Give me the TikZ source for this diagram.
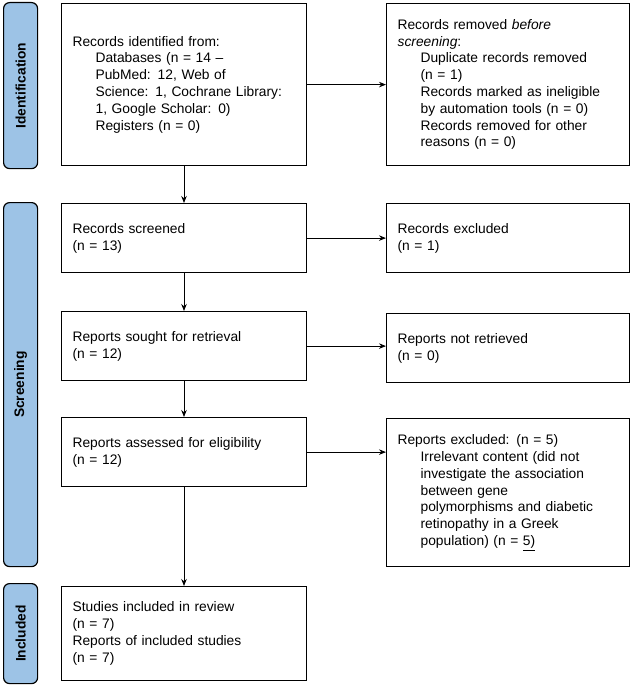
\documentclass[tikz,border=0pt]{standalone}
\usepackage{fontspec}
\setmainfont{Liberation Sans}
\usetikzlibrary{arrows.meta}
\definecolor{phase}{HTML}{9DC3E6}
\begin{document}
\begin{tikzpicture}[x=1pt,y=-1pt,
  box/.style={draw,line width=1.2pt,rectangle,anchor=north west,inner xsep=11pt,align=left,
    font=\fontsize{13.8}{16.8}\selectfont},
  lbox/.style={box,text width=222.8pt},
  rbox/.style={box,text width=220.8pt},
  phasebox/.style={draw,line width=1.2pt,fill=phase,rounded corners=6pt,anchor=north west,
    minimum width=34pt},
  phasetext/.style={rotate=90,font=\bfseries\fontsize{13.8}{16}\selectfont},
  arr/.style={-{Stealth[length=7pt,width=5.5pt]},line width=0.8pt}]
\useasboundingbox (0,0) rectangle (634,685);
\newcommand{\ind}{\hspace*{23pt}}
\node[phasebox,minimum height=166pt] (p1) at (3,2) {};
\node[phasetext] at (p1.center) {Identification};
\node[phasebox,minimum height=364pt] (p2) at (3,202) {};
\node[phasetext] at (p2.center) {Screening};
\node[phasebox,minimum height=100pt] (p3) at (3,583) {};
\node[phasetext] at (p3.center) {Included};

\node[lbox,minimum height=162pt] (a) at (61,3) {Records identified from:\\
\ind Databases (n = 14 --\\ \ind PubMed: 12, Web of\\ \ind Science: 1, Cochrane Library:\\ \ind 1, Google Scholar: 0)\\ \ind Registers (n = 0)};
\node[rbox,minimum height=162pt] (b) at (386,3) {Records removed \textit{before}\\ \textit{screening}:\\
\ind Duplicate records removed\\ \ind (n = 1)\\ \ind Records marked as ineligible\\ \ind by automation tools (n = 0)\\ \ind Records removed for other\\ \ind reasons (n = 0)};
\node[lbox,minimum height=69pt] (c) at (61,203) {Records screened\\(n = 13)};
\node[rbox,minimum height=69pt] (d) at (386,203) {Records excluded\\(n = 1)};
\node[lbox,minimum height=69pt] (e) at (61,311) {Reports sought for retrieval\\(n = 12)};
\node[rbox,minimum height=69pt] (f) at (386,313) {Reports not retrieved\\(n = 0)};
\node[lbox,minimum height=69pt] (g) at (61,417) {Reports assessed for eligibility\\(n = 12)};
\node[rbox,minimum height=148pt] (h) at (386,418) {Reports excluded: (n = 5)\\
\ind Irrelevant content (did not\\ \ind investigate the association\\ \ind between gene\\ \ind polymorphisms and diabetic\\ \ind retinopathy in a Greek\\ \ind population) (n = \underline{5)}};
\node[lbox,minimum height=94pt] (i) at (61,586) {Studies included in review\\(n = 7)\\Reports of included studies\\(n = 7)};

\draw[arr] (a.south) -- (c.north);
\draw[arr] (c.south) -- (e.north);
\draw[arr] (e.south) -- (g.north);
\draw[arr] (g.south) -- (i.north);
\draw[arr] (a.east) -- (b.west);
\draw[arr] (c.east) -- (d.west);
\draw[arr] (e.east) -- (e.east -| f.west);
\draw[arr] (g.east) -- (g.east -| h.west);
\end{tikzpicture}
\end{document}
